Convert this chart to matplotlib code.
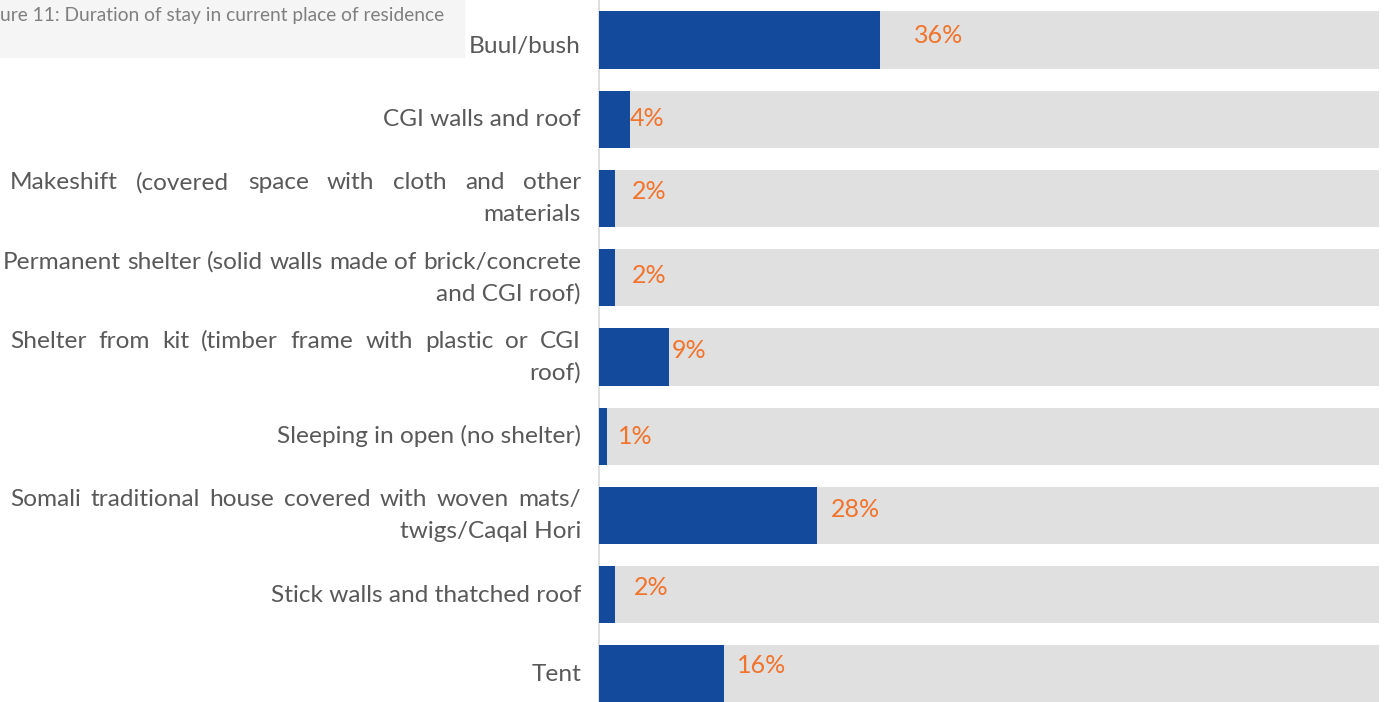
import matplotlib.pyplot as plt
import matplotlib.transforms as mtransforms
from matplotlib.patches import Rectangle

# shelter types (multi-line labels are split where the text wraps)
categories = [
    "Buul/bush",
    "CGI walls and roof",
    "Makeshift (covered space with cloth and other\nmaterials",
    "Permanent shelter (solid walls made of brick/concrete\nand CGI roof)",
    "Shelter from kit (timber frame with plastic or CGI\nroof)",
    "Sleeping in open (no shelter)",
    "Somali traditional house covered with woven mats/\ntwigs/Caqal Hori",
    "Stick walls and thatched roof",
    "Tent",
]
values = [36, 4, 2, 2, 9, 1, 28, 2, 16]
total = 100
caption = "ure 11: Duration of stay in current place of residence"

# small nudges (pixels) for the data labels
label_nudge = [(34, 5), (0, 1), (17, 7), (17, 2), (3, 7), (11, 0), (13, 6), (19, 7), (13, 9)]

W, H = 1384, 702
BLUE = "#134a9b"
GREY = "#e0e0e0"
ORANGE = "#f2732a"
TEXT = "#595959"
FONT = "Lato"

fig = plt.figure(figsize=(W / 100, H / 100), dpi=100)
ax = fig.add_axes([599 / W, 0, 780 / W, 1])

ypos = list(range(len(categories)))
ax.barh(ypos, [total] * len(values), height=0.72, color=GREY, zorder=1)
ax.barh(ypos, values, height=0.72, color=BLUE, zorder=2)

ax.set_xlim(0, total)
ax.set_ylim(8.353, -0.505)
ax.set_xticks([])
ax.set_yticks([])
for s in ["top", "right", "bottom"]:
    ax.spines[s].set_visible(False)
ax.spines["left"].set_color("#d9d9d9")
ax.spines["left"].set_linewidth(1.2)
ax.spines["left"].set_zorder(0)

for i, v in enumerate(values):
    dx, dy = label_nudge[i]
    ax.annotate(f"{v}%", xy=(v, i), xytext=(dx, dy), textcoords="offset pixels",
                ha="left", va="center", color=ORANGE, fontsize=18, family=FONT,
                zorder=3)

# caption box in the top-left corner
fig.patches.append(Rectangle((0, 1 - 57 / H), 464 / W, 57 / H,
                             transform=fig.transFigure, color="#f5f5f5", zorder=0))
fig.text(0, 1 - 15 / H, caption, ha="left", va="center", fontsize=13.8,
         color="#7f7f7f", family=FONT)

# category labels: right aligned, wrapped lines justified across the column
left_px, right_px = 10, 581
tr = mtransforms.blended_transform_factory(fig.transFigure, ax.transData)
renderer = fig.canvas.get_renderer()
label_kw = dict(fontsize=17.6, color=TEXT, family=FONT, va="baseline")
baseline_drop = 0.085  # baseline sits below the line centre (data units)


def text_width(s):
    t = fig.text(0, 0, s, **label_kw)
    w = t.get_window_extent(renderer).width
    t.remove()
    return w


space_w = text_width("a b") - text_width("ab")

for i, lab in enumerate(categories):
    lines = lab.split("\n")
    n = len(lines)
    # the top label sits a little low next to the caption box
    shift = 0.08 if i == 0 else 0.0
    for k, line in enumerate(lines):
        y = i + shift + baseline_drop + (k - (n - 1) / 2) * 0.4
        if k == n - 1:
            fig.text(right_px / W, y, line, ha="right", transform=tr, **label_kw)
            continue
        words = line.split(" ")
        widths = [text_width(w) for w in words]
        gap = (right_px - left_px - sum(widths)) / (len(words) - 1)
        gap = max(gap, space_w)
        x = right_px - sum(widths) - gap * (len(words) - 1)
        for w, wd in zip(words, widths):
            fig.text(x / W, y, w, ha="left", transform=tr, **label_kw)
            x += wd + gap

fig.savefig("out.png", dpi=100)
